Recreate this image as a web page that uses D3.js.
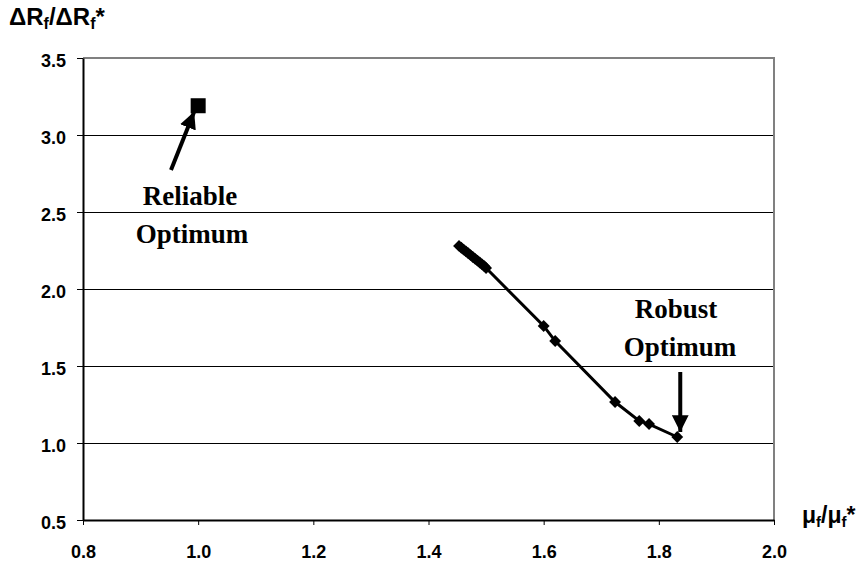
<!DOCTYPE html>
<html>
<head>
<meta charset="utf-8">
<script src="https://cdn.jsdelivr.net/npm/d3@7"></script>
<style>
    body { margin: 0; background: #fff; }
    .tick text { font-family: Arial, "Liberation Sans", sans-serif; font-weight: bold; font-size: 18px; fill: #000; }
    .note { font-family: "Times New Roman", "Liberation Serif", serif; font-weight: bold; font-size: 27px; }
    .AxisTitle { font-family: Arial, "Liberation Sans", sans-serif; font-weight: bold; font-size: 24px; }
</style>
</head>
<body>
<div id="chart"></div>
<script>
// robust front (diamonds)
const robustX = [1.453, 1.457, 1.461, 1.465, 1.469, 1.473, 1.477, 1.481, 1.485, 1.489, 1.493, 1.497, 1.500,
    1.600, 1.620, 1.724, 1.766, 1.783, 1.832];
const robustY = [2.280, 2.268, 2.256, 2.244, 2.232, 2.220, 2.208, 2.196, 2.184, 2.172, 2.160, 2.148, 2.136,
    1.760, 1.662, 1.266, 1.143, 1.123, 1.039];
// reliable optimum (square)
const reliableX = [1.0];
const reliableY = [3.19];

const xTicks = [0.8, 1.0, 1.2, 1.4, 1.6, 1.8, 2.0];
const yTicks = [0.5, 1.0, 1.5, 2.0, 2.5, 3.0, 3.5];

function init() {
    const w = 862;
    const h = 566;
    const left = 83, right = 774, top = 58, bottom = 520;

    const xScale = d3.scaleLinear().domain([0.8, 2.0]).range([left, right]);
    const yScale = d3.scaleLinear().domain([0.5, 3.5]).range([bottom, top]);

    const svg = d3.select("#chart")
        .append("svg")
        .attr("width", w)
        .attr("height", h);

    const defs = svg.append("defs");
    defs.append("marker")
        .attr("id", "head")
        .attr("viewBox", "0 0 10 10")
        .attr("refX", 10).attr("refY", 5)
        .attr("markerWidth", 4.2).attr("markerHeight", 4.2)
        .attr("markerUnits", "strokeWidth")
        .attr("orient", "auto")
        .append("path")
        .attr("d", "M0,0 L10,5 L0,10 Z")
        .attr("fill", "#000");

    // gridlines
    svg.append("g")
        .selectAll("line")
        .data(yTicks.slice(1, -1))
        .enter()
        .append("line")
        .attr("x1", left).attr("x2", right)
        .attr("y1", d => yScale(d)).attr("y2", d => yScale(d))
        .attr("stroke", "#000")
        .attr("stroke-width", 1)
        .attr("shape-rendering", "crispEdges");

    // plot border top / right
    svg.append("path")
        .attr("d", "M" + left + "," + top + "H" + right + "V" + bottom)
        .attr("fill", "none")
        .attr("stroke", "#808080")
        .attr("stroke-width", 2);

    const xAxis = d3.axisBottom(xScale)
        .tickValues(xTicks)
        .tickFormat(d3.format(".1f"))
        .tickSizeInner(5).tickSizeOuter(0).tickPadding(20);

    const yAxis = d3.axisLeft(yScale)
        .tickValues(yTicks)
        .tickFormat(d3.format(".1f"))
        .tickSizeInner(6).tickSizeOuter(0).tickPadding(11);

    const gx = svg.append("g")
        .attr("transform", "translate(0, " + bottom + ")")
        .call(xAxis);
    gx.select(".domain").attr("stroke-width", 2);

    const gy = svg.append("g")
        .attr("transform", "translate(" + left + ", 0)")
        .call(yAxis);
    gy.select(".domain").attr("stroke-width", 2);
    gy.selectAll(".tick text").attr("dy", "0.45em");

    // robust front line
    const pts = robustX.map((x, i) => [x, robustY[i]]);
    const line = d3.line().x(d => xScale(d[0])).y(d => yScale(d[1]));
    svg.append("path")
        .datum(pts)
        .attr("d", line)
        .attr("fill", "none")
        .attr("stroke", "#000")
        .attr("stroke-width", 3);

    svg.selectAll("path.dia")
        .data(pts)
        .enter()
        .append("path")
        .attr("class", "dia")
        .attr("d", d3.symbol().type(d3.symbolDiamond2).size(90))
        .attr("transform", d => "translate(" + xScale(d[0]) + "," + yScale(d[1]) + ")")
        .attr("fill", "#000");

    // reliable optimum square
    svg.selectAll("rect.sq")
        .data(reliableX)
        .enter()
        .append("rect")
        .attr("class", "sq")
        .attr("x", (d, i) => xScale(d) - 7.5)
        .attr("y", (d, i) => yScale(reliableY[i]) - 7.5)
        .attr("width", 15).attr("height", 15)
        .attr("fill", "#000");

    // arrows
    svg.append("line")
        .attr("x1", 171).attr("y1", 170)
        .attr("x2", xScale(1.0) - 4).attr("y2", yScale(3.19) + 6)
        .attr("stroke", "#000").attr("stroke-width", 4)
        .attr("marker-end", "url(#head)");

    svg.append("line")
        .attr("x1", xScale(1.832) + 3).attr("y1", 372)
        .attr("x2", xScale(1.832) + 3).attr("y2", yScale(1.039) - 5)
        .attr("stroke", "#000").attr("stroke-width", 4)
        .attr("marker-end", "url(#head)");

    // annotations
    const notes = [
        {t: "Reliable", x: 190, y: 205},
        {t: "Optimum", x: 192, y: 243},
        {t: "Robust", x: 676, y: 318},
        {t: "Optimum", x: 680, y: 356}
    ];
    svg.selectAll("text.note")
        .data(notes)
        .enter()
        .append("text")
        .attr("class", "note")
        .attr("text-anchor", "middle")
        .attr("x", d => d.x).attr("y", d => d.y)
        .text(d => d.t);

    // Y axis title
    const yt = svg.append("text")
        .attr("class", "AxisTitle")
        .attr("x", 9).attr("y", 25);
    yt.append("tspan").text("ΔR");
    yt.append("tspan").attr("font-size", "16px").attr("dy", 4).text("f");
    yt.append("tspan").attr("dy", -4).text("/ΔR");
    yt.append("tspan").attr("font-size", "16px").attr("dy", 4).text("f");
    yt.append("tspan").attr("dy", -4).text("*");

    // X axis title
    const xt = svg.append("text")
        .attr("class", "AxisTitle")
        .attr("x", 802).attr("y", 523)
        .style("font-size", "23px");
    xt.append("tspan").text("μ");
    xt.append("tspan").attr("font-size", "15px").attr("dy", 4).text("f");
    xt.append("tspan").attr("dy", -4).text("/μ");
    xt.append("tspan").attr("font-size", "15px").attr("dy", 4).text("f");
    xt.append("tspan").attr("dy", -4).text("*");
}

window.onload = init;
</script>
</body>
</html>
